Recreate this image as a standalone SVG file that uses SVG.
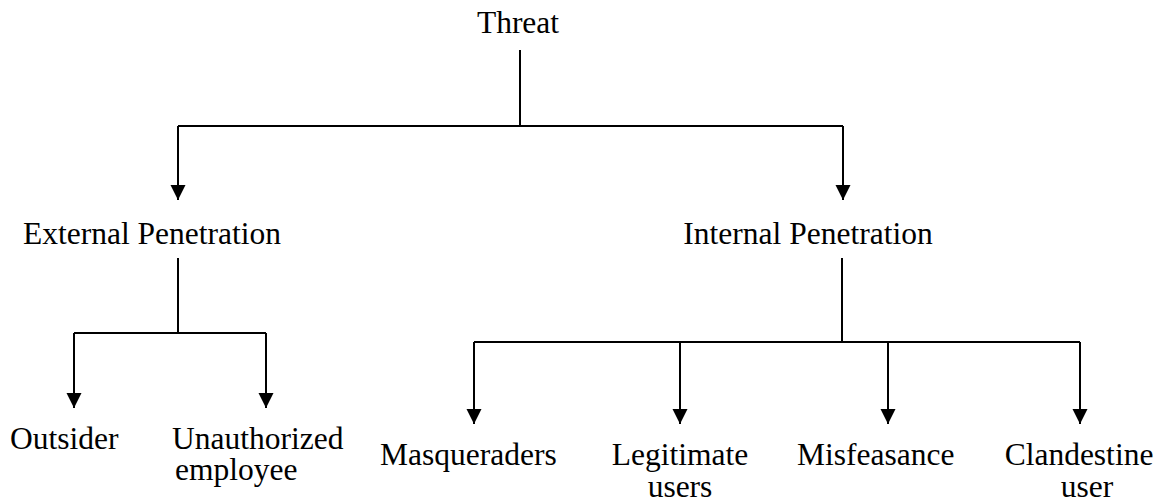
<svg xmlns="http://www.w3.org/2000/svg" width="1166" height="503" viewBox="0 0 1166 503">
  <style>
    .lbl { font-family: "Liberation Serif", "Times New Roman", serif; font-size: 31.5px; fill: #000; }
    .mid { text-anchor: middle; }
    .conn { fill: none; stroke: #000; stroke-width: 2; }
  </style>
  <defs>
    <marker id="arrow" markerUnits="userSpaceOnUse" markerWidth="16" markerHeight="16" refX="15" refY="7.5" orient="auto">
      <path d="M0,0 L15,7.5 L0,15 Z" fill="#000"/>
    </marker>
  </defs>

  <!-- tree connectors -->
  <g id="connectors" class="conn">
    <path d="M520 50 V126 M178 126 H843"/>
    <path d="M178 126 V200" marker-end="url(#arrow)"/>
    <path d="M843 126 V200" marker-end="url(#arrow)"/>

    <path d="M178 258 V333 M74 333 H266"/>
    <path d="M74 333 V408" marker-end="url(#arrow)"/>
    <path d="M266 333 V408" marker-end="url(#arrow)"/>

    <path d="M842 258 V342 M474 342 H1080"/>
    <path d="M474 342 V424" marker-end="url(#arrow)"/>
    <path d="M680 342 V424" marker-end="url(#arrow)"/>
    <path d="M888 342 V424" marker-end="url(#arrow)"/>
    <path d="M1080 342 V424" marker-end="url(#arrow)"/>
  </g>

  <g id="threat"><text class="lbl mid" x="518" y="33">Threat</text></g>
  <g id="external"><text class="lbl mid" x="152" y="244">External Penetration</text></g>
  <g id="internal"><text class="lbl mid" x="808" y="244">Internal Penetration</text></g>

  <g id="outsider"><text class="lbl" x="10" y="449">Outsider</text></g>
  <g id="unauthorized">
    <text class="lbl" x="172" y="449">Unauthorized</text>
    <text class="lbl" x="175" y="480">employee</text>
  </g>

  <g id="masqueraders"><text class="lbl" x="380" y="465">Masqueraders</text></g>
  <g id="legitimate">
    <text class="lbl mid" x="680" y="465">Legitimate</text>
    <text class="lbl mid" x="680" y="497">users</text>
  </g>
  <g id="misfeasance"><text class="lbl" x="797" y="465">Misfeasance</text></g>
  <g id="clandestine">
    <text class="lbl mid" x="1079" y="465">Clandestine</text>
    <text class="lbl mid" x="1087" y="497">user</text>
  </g>
</svg>
